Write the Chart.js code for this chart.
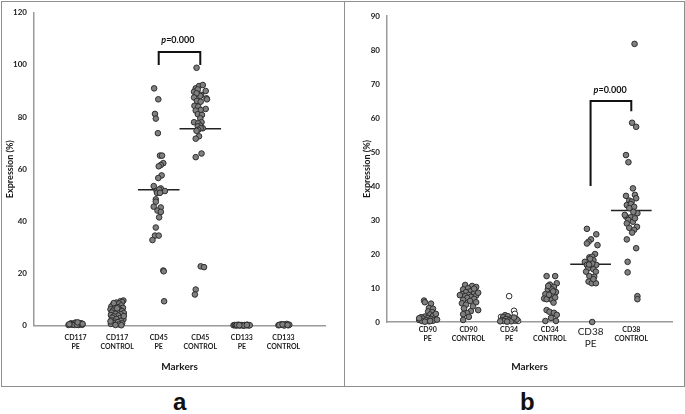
<!DOCTYPE html>
<html>
<head>
<meta charset="utf-8">
<script src="https://cdn.jsdelivr.net/npm/chart.js@4"></script>
<style>
  body { margin: 0; background: #fff; width: 685px; height: 414px; position: relative; overflow: hidden; font-family: Lato, sans-serif; }
  .panel { position: absolute; top: 1px; height: 384px; border: 1px solid #8f8f8f; }
  #boxA { left: 1px; width: 342px; }
  #boxB { left: 344px; width: 339px; }
  canvas { position: absolute; top: 1px; }
  #chartA { left: 1px; }
  #chartB { left: 344px; }
  .tag { position: absolute; top: 388px; font: bold 24px "Liberation Sans", Arial, sans-serif; color: #111; }
</style>
</head>
<body>
<div class="panel" id="boxA"></div>
<div class="panel" id="boxB"></div>
<canvas id="chartA" width="343" height="385"></canvas>
<canvas id="chartB" width="340" height="385"></canvas>
<div class="tag" style="left:173px">a</div>
<div class="tag" style="left:520px">b</div>
<script>
// ---- panel a ----
const leftCats = [['CD117', 'PE'], ['CD117', 'CONTROL'], ['CD45', 'PE'], ['CD45', 'CONTROL'], ['CD133', 'PE'], ['CD133', 'CONTROL']];
const leftYTicks = [0, 20, 40, 60, 80, 100, 120];

const cd117PeVals = [0.2, 0.5, 0.8, 0.3, 0.6, 1.0, 0.4, 0.7, 0.2, 0.9, 0.5, 0.3, 1.1, 0.6, 0.4, 0.8, 0.2, 0.7, 0.5, 0.3, 1.2, 0.6];
const cd117PeJit = [-0.17, -0.14, -0.11, -0.08, -0.05, -0.02, 0.01, 0.04, 0.07, 0.1, 0.13, 0.16, 0.0, -0.12, 0.08, 0.14, -0.03, 0.12, -0.15, 0.03, 0.05, 0.17];

const cd117CtlVals = [9.6, 9.3, 9.0, 8.8, 8.4, 8.0, 7.7, 7.3, 7.0, 6.8, 6.5, 6.2, 6.0, 5.7, 5.5, 5.2, 5.0, 4.8, 4.5, 4.3, 4.0, 3.8, 3.5, 3.3, 3.0, 2.8, 2.5, 2.3, 2.0, 1.8, 1.5, 1.3, 1.0, 0.8, 0.6, 0.4, 0.2, 0.1, 6.6, 8.6, 3.6, 1.6];
const cd117CtlJit = [0.15, 0.08, 0.12, -0.02, 0.05, -0.1, 0.1, -0.14, 0.02, 0.14, -0.06, -0.16, 0.07, -0.1, 0.12, 0.0, -0.13, 0.16, -0.04, 0.09, -0.15, 0.03, -0.08, 0.13, -0.12, 0.06, -0.02, 0.15, -0.14, 0.09, -0.06, 0.02, -0.1, 0.12, -0.15, 0.05, -0.04, 0.1, 0.0, -0.08, 0.16, -0.16];

const cd45PeVals = [91.0, 86.8, 81.2, 79.4, 73.8, 65.2, 65.2, 62.3, 61.6, 61.1, 57.6, 56.6, 53.5, 52.6, 51.6, 51.6, 52.2, 50.9, 50.9, 48.4, 47.5, 45.6, 45.3, 44.1, 43.6, 41.5, 37.6, 34.5, 34.5, 32.8, 21.1, 20.8, 9.3];
const cd45PeJit = [-0.11, -0.01, -0.09, -0.07, -0.02, 0.03, 0.08, 0.11, 0.05, 0.0, 0.07, -0.01, -0.12, 0.05, -0.05, 0.15, 0.01, -0.04, 0.03, -0.07, -0.07, -0.12, 0.05, -0.03, 0.05, 0.01, -0.07, -0.09, 0.0, -0.15, 0.11, 0.12, 0.13];

const cd45CtlVals = [98.9, 91.0, 91.9, 92.3, 89.7, 90.6, 90.0, 88.8, 88.5, 88.1, 89.1, 87.5, 87.2, 86.2, 85.9, 86.8, 84.3, 84.0, 83.1, 82.7, 82.5, 81.1, 80.8, 79.5, 78.0, 78.0, 77.6, 76.7, 76.4, 75.7, 75.7, 75.1, 74.7, 72.6, 71.7, 66.0, 64.6, 22.7, 22.4, 13.8, 11.9];
const cd45CtlJit = [-0.09, -0.11, -0.03, 0.06, -0.15, -0.06, 0.13, -0.05, 0.02, 0.0, -0.09, -0.15, 0.15, -0.08, 0.01, 0.16, -0.14, -0.05, 0.13, 0.01, -0.11, -0.06, 0.04, 0.0, -0.15, 0.03, -0.05, 0.0, -0.06, 0.06, 0.01, -0.05, -0.09, -0.03, -0.11, 0.03, -0.11, 0.01, 0.09, -0.11, -0.13];

const cd133PeVals = [0.1, 0.2, 0, 0.1, 0.3, 0, 0.2, 0.1, 0, 0.2, 0.1, 0.3, 0, 0.1, 0.2, 0, 0.1, 0.2];
const cd133PeJit = [-0.2, -0.17, -0.14, -0.11, -0.08, -0.05, -0.02, 0.01, 0.04, 0.07, 0.1, 0.13, 0.16, 0.19, -0.12, 0.05, -0.06, 0.12];

const cd133CtlVals = [0.1, 0.3, 0.5, 0.2, 0.4, 0.6, 0.1, 0.3, 0.2, 0, 0.4, 0.2];
const cd133CtlJit = [-0.12, -0.08, -0.04, 0, 0.04, 0.08, 0.12, 0.14, -0.1, 0.02, -0.02, 0.1];

const leftMedians = [null, null, 52.1, 75.5, null, null];

// ---- panel b ----
const rightCats = [['CD90', 'PE'], ['CD90', 'CONTROL'], ['CD34', 'PE'], ['CD34', 'CONTROL'], ['CD38', 'PE'], ['CD38', 'CONTROL']];
const rightYTicks = [0, 10, 20, 30, 40, 50, 60, 70, 80, 90];

const cd90PeVals = [6.3, 5.8, 5.4, 4.1, 3.9, 3.1, 2.9, 2.2, 1.9, 1.6, 1.8, 1.4, 1.2, 1.0, 0.9, 0.8, 0.6, 0.5, 0.4, 0.3, 0.2, 0.1, 1.1, 0.7, 2.4, 0.3];
const cd90PeJit = [-0.09, -0.07, 0.08, 0.03, 0.13, 0.01, 0.11, 0.06, 0.18, -0.07, 0.13, -0.16, 0.01, -0.12, 0.08, 0.2, -0.21, -0.04, 0.13, -0.14, 0.03, -0.07, -0.21, 0.23, 0.2, 0.06];

const cd90CtlVals = [10.9, 10.6, 10.3, 9.9, 9.6, 9.4, 9.0, 8.8, 8.5, 8.2, 8.0, 7.8, 7.6, 7.4, 7.1, 6.8, 6.5, 6.2, 5.8, 5.5, 5.1, 4.6, 4.0, 3.5, 3.2, 2.6, 2.3, 1.5, 0.6, 9.8, 8.6, 7.9];
const cd90CtlJit = [-0.08, 0.09, 0.19, -0.01, -0.13, 0.11, 0.04, -0.06, 0.14, -0.16, 0.01, 0.19, -0.08, 0.06, -0.03, 0.14, -0.13, 0.04, 0.19, -0.16, -0.06, 0.11, -0.11, 0.24, 0.06, -0.03, -0.13, 0.01, -0.13, 0.14, 0.24, -0.21];

const cd34PeVals = [2.0, 1.7, 1.4, 1.1, 0.9, 0.8, 0.6, 0.5, 0.4, 0.3, 0.2, 0.1, 0.7, 1.3, 0.2];
const cd34PeJit = [-0.1, -0.03, -0.15, 0.05, -0.08, 0.1, -0.17, 0, 0.14, -0.13, 0.05, -0.05, 0.19, 0.12, -0.22];
const cd34PeOpenVals = [7.6, 3.3, 2.4, 1.5, 0.9, 0.3];
const cd34PeOpenJit = [0, 0.12, 0.14, -0.2, 0.17, 0.22];

const cd34CtlVals = [13.5, 13.5, 11.4, 11.0, 10.3, 9.6, 9.6, 8.8, 8.2, 7.6, 6.9, 6.7, 6.5, 5.7, 3.5, 3.0, 2.7, 2.1, 0.3, 0.3, 10.6, 9.0, 8.0, 7.2, 1.2];
const cd34CtlJit = [-0.08, 0.13, 0.17, 0, 0.1, -0.05, 0.05, 0.15, -0.11, 0.07, -0.14, -0.08, 0.05, 0.09, -0.08, -0.01, 0.1, 0.17, -0.11, 0.15, -0.04, 0.08, -0.02, 0.13, 0.03];

const cd38PeVals = [27.4, 25.8, 24.3, 23.6, 22.6, 23.1, 20.0, 19.0, 19.2, 17.7, 17.7, 18.2, 16.8, 16.5, 16.8, 15.8, 15.5, 14.8, 14.8, 13.5, 13.3, 11.9, 11.4, 11.4, 12.6, 0.0, 17.2, 16.9, 18.6];
const cd38PeJit = [-0.09, 0.14, 0.01, -0.05, 0.17, -0.09, 0.11, -0.03, 0.04, -0.14, 0, 0.07, -0.09, -0.01, 0.14, -0.06, 0.07, -0.11, 0.13, -0.03, 0.09, -0.05, 0.03, 0.13, 0.07, 0.04, 0.04, -0.04, -0.01];

const cd38CtlVals = [81.8, 58.6, 57.4, 49.1, 47.0, 39.3, 37.1, 37.4, 36.4, 35.7, 35.4, 34.4, 34.7, 33.9, 32.0, 32.4, 31.0, 30.8, 30.0, 29.5, 29.0, 28.0, 27.7, 27.1, 26.3, 24.3, 21.7, 17.7, 14.6, 7.6, 6.7, 30.5, 31.5, 33.5];
const cd38CtlJit = [0.08, 0.02, 0.12, -0.13, -0.07, 0.04, -0.13, 0.09, 0.12, -0.05, 0.01, -0.11, -0.01, 0.07, 0.15, 0.05, -0.13, -0.01, -0.07, 0.04, -0.11, 0.14, -0.05, 0.07, 0.02, -0.11, 0.12, -0.09, -0.09, 0.15, 0.15, 0.09, -0.16, -0.05];

const rightMedians = [null, null, null, null, 17.0, 32.8];

const DOT_FILL = '#808080';
const DOT_EDGE = '#2e2e2e';

function dots(cat, jit, vals, fill) {
    return {
        type: 'scatter',
        data: vals.map((v, i) => ({ x: cat + jit[i], y: v })),
        backgroundColor: fill || DOT_FILL,
        borderColor: DOT_EDGE,
        borderWidth: 1,
        pointRadius: 2.8,
        clip: false
    };
}

function medianLines(medians) {
    return medians.map((m, i) => m == null ? null : {
        type: 'line',
        data: [{ x: i + 1 - 0.5, y: m }, { x: i + 1 + 0.5, y: m }],
        borderColor: '#222',
        borderWidth: 1.5,
        pointRadius: 0,
        clip: false
    }).filter(Boolean);
}

function bracket(x1, y1, x2, y2, top) {
    return {
        type: 'line',
        data: [{ x: x1, y: y1 }, { x: x1, y: top }, { x: x2, y: top }, { x: x2, y: y2 }],
        borderColor: '#111',
        borderWidth: 2,
        pointRadius: 0,
        clip: false
    };
}

// draws the "p=0.000" note with an italic p
const pLabelPlugin = {
    id: 'pLabel',
    afterDatasetsDraw(chart, args, opts) {
        const ctx = chart.ctx;
        const px = chart.scales.x.getPixelForValue(opts.x);
        const py = chart.scales.y.getPixelForValue(opts.y);
        ctx.save();
        ctx.fillStyle = '#111';
        ctx.textBaseline = 'middle';
        const f1 = 'italic bold 9px Lato';
        const f2 = 'bold 9px Lato';
        ctx.font = f1;
        const w1 = ctx.measureText('p').width;
        ctx.font = f2;
        const w2 = ctx.measureText('=0.000').width;
        const x0 = px - (w1 + w2) / 2;
        ctx.font = f1;
        ctx.fillText('p', x0, py);
        ctx.font = f2;
        ctx.fillText('=0.000', x0 + w1, py);
        ctx.restore();
    }
};

function makeOptions(cfg) {
    return {
        responsive: false,
        animation: false,
        devicePixelRatio: 1,
        layout: { padding: cfg.padding },
        plugins: {
            legend: { display: false },
            tooltip: { enabled: false },
            pLabel: cfg.pLabel
        },
        scales: {
            x: {
                type: 'linear',
                min: 0,
                max: 7,
                afterBuildTicks: s => { s.ticks = cfg.cats.map((c, i) => ({ value: i + 1 })); },
                afterFit: s => { s.height = cfg.xHeight; },
                grid: { display: false, drawTicks: false },
                border: { display: true, color: '#9a9a9a', width: 1.5 },
                ticks: {
                    padding: cfg.xTickPad,
                    color: '#1a1a1a',
                    maxRotation: 0,
                    autoSkip: false,
                    font: cfg.xFont,
                    callback: v => cfg.cats[v - 1]
                },
                title: {
                    display: true,
                    text: 'Markers',
                    color: '#1a1a1a',
                    font: { family: 'Lato', size: 10, weight: 'bold' },
                    padding: { top: 0, bottom: 13 }
                }
            },
            y: {
                min: 0,
                max: cfg.yTicks[cfg.yTicks.length - 1],
                afterBuildTicks: s => { s.ticks = cfg.yTicks.map(v => ({ value: v })); },
                afterFit: s => { s.width = cfg.yWidth; },
                grid: { display: false, drawTicks: false },
                border: { display: true, color: '#9a9a9a', width: 1.5 },
                ticks: {
                    padding: cfg.yTickPad,
                    color: '#1a1a1a',
                    font: { family: 'Lato', size: 8, weight: 'bold' }
                },
                title: {
                    display: true,
                    text: 'Expression (%)',
                    color: '#1a1a1a',
                    font: { family: 'Lato', size: 9, weight: 'bold' },
                    padding: { top: cfg.yTitlePad, bottom: 0 }
                }
            }
        }
    };
}

const smallTick = { family: 'Lato', size: 7, weight: 'bold', lineHeight: 1.3 };

new Chart(document.getElementById('chartA'), {
    type: 'scatter',
    data: {
        datasets: [
            dots(1, cd117PeJit, cd117PeVals),
            dots(2, cd117CtlJit, cd117CtlVals),
            dots(3, cd45PeJit, cd45PeVals),
            dots(4, cd45CtlJit, cd45CtlVals),
            dots(5, cd133PeJit, cd133PeVals),
            dots(6, cd133CtlJit, cd133CtlVals),
            ...medianLines(leftMedians),
            bracket(3, 100, 4, 100, 105)
        ]
    },
    options: makeOptions({
        padding: { top: 9.5, right: 19, left: 0, bottom: 0 },
        cats: leftCats,
        yTicks: leftYTicks,
        xHeight: 60.5,
        yWidth: 33,
        xTickPad: 8,
        yTickPad: 7,
        yTitlePad: 3.6,
        xFont: smallTick,
        pLabel: { x: 3.46, y: 109.6 }
    }),
    plugins: [pLabelPlugin]
});

new Chart(document.getElementById('chartB'), {
    type: 'scatter',
    data: {
        datasets: [
            dots(1, cd90PeJit, cd90PeVals),
            dots(2, cd90CtlJit, cd90CtlVals),
            dots(3, cd34PeJit, cd34PeVals),
            dots(3, cd34PeOpenJit, cd34PeOpenVals, '#ffffff'),
            dots(4, cd34CtlJit, cd34CtlVals),
            dots(5, cd38PeJit, cd38PeVals),
            dots(6, cd38CtlJit, cd38CtlVals),
            ...medianLines(rightMedians),
            bracket(5, 40, 6, 62, 65)
        ]
    },
    options: makeOptions({
        padding: { top: 15, right: 12, left: 0, bottom: 0 },
        cats: rightCats,
        yTicks: rightYTicks,
        xHeight: 64,
        yWidth: 43,
        xTickPad: 3.5,
        yTickPad: 7,
        yTitlePad: 17.6,
        xFont: ctx => ctx.index === 4
            ? { family: 'Lato', size: 10, weight: 'normal', lineHeight: 1.2 }
            : smallTick,
        pLabel: { x: 5.48, y: 68.2 }
    }),
    plugins: [pLabelPlugin]
});
</script>
</body>
</html>
